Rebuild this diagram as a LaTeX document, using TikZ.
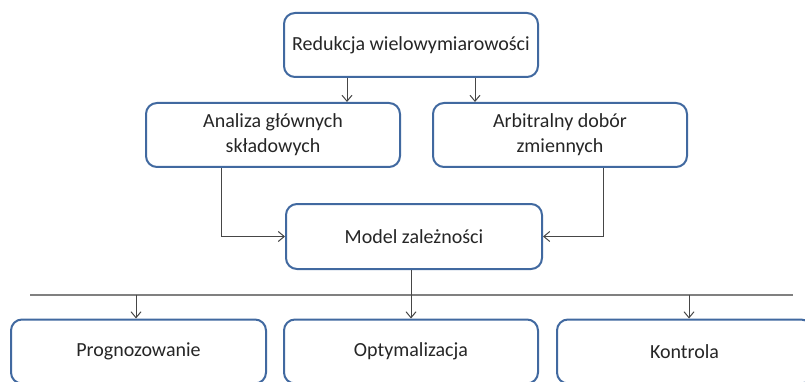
\documentclass[tikz,border=0pt]{standalone}
\usepackage{fontspec}
\setmainfont{Carlito}
\usetikzlibrary{arrows.meta}
\definecolor{boxline}{RGB}{65,105,160}
\definecolor{txt}{RGB}{38,38,38}
\definecolor{conn}{RGB}{70,70,70}
\definecolor{busc}{RGB}{128,128,128}
\tikzset{
  box/.style={draw=boxline, line width=2pt, rounded corners=11pt, fill=white,
    minimum width=254pt, minimum height=64pt, align=center, text=txt,
    font=\fontsize{20}{25}\selectfont, inner sep=0pt},
  arr/.style={draw=conn, line width=1pt, -{Straight Barb[length=6pt,width=10pt]}},
  plain/.style={draw=conn, line width=1pt},
  bus/.style={draw=busc, line width=2pt}
}
\begin{document}
\begin{tikzpicture}[x=1pt,y=-1pt]
\useasboundingbox (0,0) rectangle (805,382);
\clip (0,0) rectangle (805,382);
\node[box] (red) at (411,45) {Redukcja wielowymiarowości};
\node[box] (ana) at (273,135) {Analiza głównych\\składowych};
\node[box] (arb) at (560,135) {Arbitralny dobór\\zmiennych};
\node[box, minimum width=256pt, minimum height=65pt] (mod) at (414,236.5) {Model zależności};
\node[box, minimum width=255pt] (pro) at (138.5,351.5) {Prognozowanie};
\node[box] (opt) at (411,351.5) {Optymalizacja};
\node[box, minimum width=255pt] (kon) at (684.5,351.5) {Kontrola};
\coordinate (busL) at (30,294.5);
\coordinate (busR) at (793,294.5);
% top arrows
\draw[arr] ([xshift=-64pt]red.south) -- ([xshift=-64pt]red.south |- ana.north);
\draw[arr] ([xshift=64pt]red.south) -- ([xshift=64pt]red.south |- arb.north);
% side connectors into model
\draw[arr] ([xshift=-52pt]ana.south) |- (mod.west);
\draw[arr] ([xshift=43pt]arb.south) |- (mod.east);
% bus line
\draw[bus] (busL) -- (busR);
% model to optymalizacja
\draw[arr] (mod.south -| opt.north) -- (opt.north);
% bus to boxes
\draw[arr] ([xshift=-2.5pt]pro.north |- busL) -- ([xshift=-2.5pt]pro.north);
\draw[arr] ([xshift=4.5pt]kon.north |- busL) -- ([xshift=4.5pt]kon.north);
\end{tikzpicture}
\end{document}
